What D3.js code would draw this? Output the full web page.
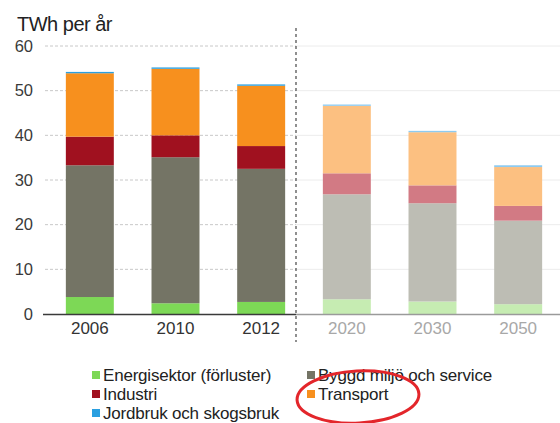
<!DOCTYPE html>
<html><head><meta charset="utf-8">
<script src="https://cdn.jsdelivr.net/npm/d3@7"></script>
<style>body{margin:0;background:#fff}svg{display:block;font-family:"Liberation Sans",Arial,sans-serif}</style>
</head><body><svg id="c" width="560" height="423"></svg>
<script>
const years = ["2006","2010","2012","2020","2030","2050"];
const projected = [false,false,false,true,true,true];
const seriesNames = ["Energisektor (förluster)","Byggd miljö och service","Industri","Transport","Jordbruk och skogsbruk"];
const energi    = [3.8, 2.4, 2.7, 3.3, 2.8, 2.2];
const bygg      = [29.5, 32.7, 29.8, 23.5, 22.0, 18.7];
const industri  = [6.4, 4.9, 5.1, 4.7, 4.0, 3.3];
const transport = [14.2, 14.9, 13.5, 15.1, 11.9, 8.7];
const jordbruk  = [0.3, 0.3, 0.3, 0.3, 0.3, 0.4];
const yTicks = [0,10,20,30,40,50,60];

const colorsHist = ["#7dd856","#747465","#a0111f","#f7901e","#2a9fe0"];
const colorsProj = ["#c6ecb2","#bdbdb4","#d27a84","#fcc081","#8ecbf0"];

const svg = d3.select("#c");
const x = d3.scaleBand().domain(years).range([47,561]).paddingInner(0.44).paddingOuter(0.22);
const y = d3.scaleLinear().domain([0,60]).range([314,46]);

// grid
const splitX = 296;
yTicks.filter(t=>t>0).forEach(t=>{
  svg.append("line").attr("x1",45).attr("x2",splitX).attr("y1",y(t)).attr("y2",y(t))
    .attr("stroke","#c8c8c8").attr("stroke-dasharray","3,2");
  svg.append("line").attr("x1",splitX).attr("x2",560).attr("y1",y(t)).attr("y2",y(t))
    .attr("stroke","#ececec");
});

// y axis labels
const yAxis = d3.axisLeft(y).tickValues(yTicks).tickSize(0).tickPadding(0);
const ga = svg.append("g").attr("transform","translate(33,0)").call(yAxis);
ga.select(".domain").remove();
ga.selectAll("text").attr("font-size",16.5).attr("fill","#3a3a3a").attr("font-family","Liberation Sans, Arial");

// stacked data
const data = years.map((yr,i)=>({year:yr, proj:projected[i], k0:energi[i], k1:bygg[i], k2:industri[i], k3:transport[i], k4:jordbruk[i]}));
const stack = d3.stack().keys(["k0","k1","k2","k3","k4"])(data);
stack.forEach((layer,si)=>{
  svg.append("g").selectAll("rect").data(layer).join("rect")
    .attr("x",d=>x(d.data.year)).attr("width",x.bandwidth())
    .attr("y",d=>y(d[1])).attr("height",d=>Math.max(0,y(d[0])-y(d[1])))
    .attr("fill",d=>d.data.proj?colorsProj[si]:colorsHist[si]);
});

// baseline
svg.append("line").attr("x1",43).attr("x2",splitX).attr("y1",314.5).attr("y2",314.5).attr("stroke","#3a3a3a").attr("stroke-width",1.5);
svg.append("line").attr("x1",splitX).attr("x2",560).attr("y1",314.5).attr("y2",314.5).attr("stroke","#9a9a9a").attr("stroke-width",1.5);

// dashed divider
svg.append("line").attr("x1",splitX).attr("x2",splitX).attr("y1",28).attr("y2",342)
  .attr("stroke","#555").attr("stroke-width",1.3).attr("stroke-dasharray","3,3");

// x labels
const xAxis = d3.axisBottom(x).tickSize(0).tickPadding(0);
const gx = svg.append("g").attr("transform","translate(0,322)").call(xAxis);
gx.select(".domain").remove();
gx.selectAll("text").attr("font-size",17).attr("font-family","Liberation Sans, Arial")
  .attr("fill",(d,i)=>projected[i]?"#a8a8a8":"#333");

// title
svg.append("text").attr("x",17).attr("y",31).attr("font-size",20).attr("letter-spacing","-0.5")
  .attr("fill","#222").text("TWh per år");

// legend
const legPos = [[92,381],[307,381],[92,400],[307,400],[92,419]];
const legOrder = [0,1,2,3,4];
legOrder.forEach((si,k)=>{
  const [lx,ly] = legPos[k];
  svg.append("rect").attr("x",lx).attr("y",ly-10).attr("width",8).attr("height",8).attr("fill",colorsHist[si]);
  svg.append("text").attr("x",lx+11).attr("y",ly).attr("font-size",17).attr("letter-spacing","-0.2")
    .attr("fill","#222").text(seriesNames[si]);
});

// red annotation ellipse
svg.append("ellipse").attr("cx",358).attr("cy",397).attr("rx",61).attr("ry",26)
  .attr("fill","none").attr("stroke","#e3262b").attr("stroke-width",3)
  .attr("transform","rotate(-3,358,397)");
</script></body></html>
